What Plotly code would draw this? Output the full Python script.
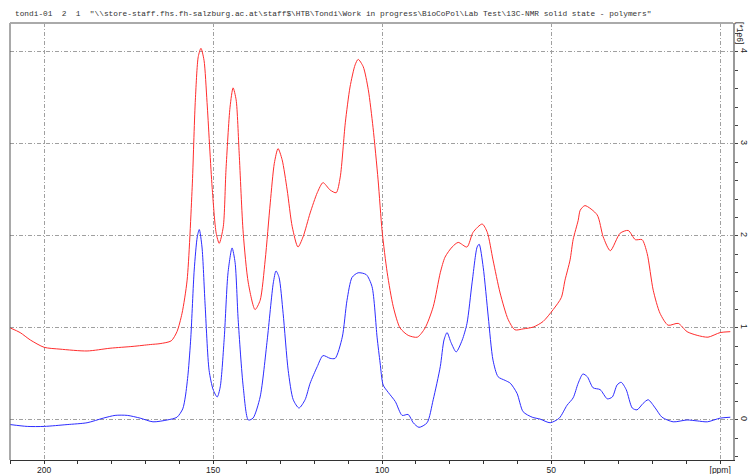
import plotly.graph_objects as go

# --- data (ppm, intensity in 1e6 units) ---
red_ppm = [210.0, 207.1, 204.1, 200.0, 195.3, 187.3, 180.5, 173.7, 168.6, 165.7, 162.4, 160.7, 159.2, 157.7,
           156.2, 155.3, 154.4, 153.6, 152.7, 151.8, 150.3, 149.1, 148.2, 147.0, 146.2, 145.0, 144.1, 143.2,
           142.3, 141.1, 139.6, 137.6, 136.1, 134.6, 133.1, 131.9, 130.8, 129.6, 128.1, 126.6, 124.9, 123.4,
           121.3, 119.2, 117.5, 115.4, 113.6, 112.4, 110.9, 109.5, 108.0, 107.1, 105.6, 104.1, 102.7, 101.2,
           100.0, 98.5, 96.7, 94.7, 92.3, 89.6, 87.3, 84.9, 82.8, 81.4, 79.3, 77.5, 74.9, 73.1, 70.4, 68.9,
           67.2, 65.1, 62.7, 60.7, 58.3, 55.3, 52.4, 49.4, 47.0, 45.9, 44.4, 43.5, 42.0, 41.4, 40.0, 36.4,
           34.6, 32.5, 29.6, 27.2, 25.1, 23.1, 21.6, 19.8, 17.8, 15.4, 12.4, 9.8, 6.8, 3.6, 0.0, -3.0]
red_int = [1.00, 0.95, 0.87, 0.79, 0.77, 0.75, 0.78, 0.80, 0.82, 0.83, 0.86, 0.96, 1.16, 1.52,
           2.53, 3.45, 3.95, 4.04, 3.91, 3.45, 2.53, 2.03, 1.92, 2.10, 2.72, 3.40, 3.61, 3.48,
           2.90, 2.03, 1.49, 1.20, 1.30, 1.74, 2.36, 2.79, 2.95, 2.83, 2.50, 2.10, 1.88, 1.99,
           2.25, 2.47, 2.58, 2.50, 2.47, 2.64, 3.23, 3.62, 3.86, 3.92, 3.84, 3.59, 3.18, 2.61,
           2.05, 1.60, 1.23, 1.00, 0.92, 0.90, 1.00, 1.23, 1.60, 1.77, 1.88, 1.93, 1.88, 2.04, 2.13, 2.04,
           1.74, 1.38, 1.09, 0.98, 0.99, 1.01, 1.07, 1.20, 1.33, 1.52, 1.74, 1.96, 2.17, 2.28, 2.33, 2.23,
           1.99, 1.84, 2.03, 2.06, 1.96, 1.96, 1.81, 1.41, 1.16, 1.03, 1.05, 0.96, 0.92, 0.90, 0.95, 0.96]

blue_ppm = [210.0, 205.0, 200.0, 193.2, 187.3, 182.5, 179.0, 175.4, 171.6, 167.8, 163.6, 160.7, 159.0, 158.2,
            157.4, 156.6, 155.6, 154.7, 154.1, 153.3, 152.4, 151.2, 150.0, 148.8, 147.9, 146.7, 145.6, 144.4,
            143.5, 142.6, 141.1, 139.6, 138.2, 136.1, 134.0, 132.2, 131.4, 130.5, 129.3, 127.8, 126.3, 124.6,
            122.8, 121.3, 119.2, 117.5, 115.4, 113.9, 111.8, 110.4, 108.9, 107.1, 104.7, 103.0, 101.5, 100.6,
            99.7, 98.2, 96.1, 94.1, 92.3, 90.8, 89.1, 86.7, 84.9, 82.8, 81.7, 80.8, 79.6, 78.1, 76.3, 74.9,
            73.4, 71.9, 71.3, 70.1, 68.6, 67.2, 65.7, 63.6, 62.1, 60.1, 58.3, 55.6, 53.3, 50.3, 47.6, 45.3,
            43.5, 42.0, 40.6, 39.3, 37.6, 35.5, 33.4, 31.9, 30.5, 29.3, 27.8, 26.0, 24.6, 22.8, 21.3, 19.2,
            17.2, 13.9, 9.8, 6.8, 3.8, 0.0, -3.0]
blue_int = [-0.05, -0.07, -0.07, -0.05, -0.03, 0.02, 0.05, 0.05, 0.02, -0.02, 0.00, 0.03, 0.12, 0.26,
            0.51, 0.90, 1.63, 1.99, 2.07, 1.88, 1.27, 0.54, 0.33, 0.25, 0.36, 0.90, 1.60, 1.87,
            1.71, 1.09, 0.36, 0.00, 0.02, 0.25, 0.87, 1.49, 1.62, 1.55, 1.16, 0.54, 0.22, 0.13,
            0.22, 0.40, 0.58, 0.70, 0.67, 0.67, 0.90, 1.30, 1.55, 1.60, 1.58, 1.45, 0.90, 0.62,
            0.38, 0.30, 0.20, 0.05, 0.06, -0.03, -0.08, -0.03, 0.22, 0.58, 0.87, 0.95, 0.84, 0.74, 0.87, 1.05,
            1.49, 1.88, 1.91, 1.66, 1.12, 0.65, 0.47, 0.43, 0.40, 0.29, 0.09, 0.03, 0.01, -0.03, 0.02, 0.16,
            0.24, 0.40, 0.50, 0.47, 0.35, 0.33, 0.23, 0.25, 0.38, 0.41, 0.33, 0.13, 0.11, 0.18, 0.22, 0.13,
            0.03, -0.02, 0.00, -0.01, -0.02, 0.02, 0.03]

x_tickvals = [200, 150, 100, 50, 0]
x_ticktext = ["200", "150", "100", "50", "[ppm]"]
y_tickvals = [0, 1, 2, 3, 4]
y_ticktext = ["0", "1", "2", "3", "4"]
y_unit = "[*1e6]"
title_text = ('tondi-01  2  1  "\\\\store-staff.fhs.fh-salzburg.ac.at\\staff$\\HTB\\Tondi\\Work in progress'
              '\\BioCoPol\\Lab Test\\13C-NMR solid state - polymers"')

fig = go.Figure()
fig.add_trace(go.Scatter(x=red_ppm, y=red_int, mode="lines",
                         line=dict(color="rgb(255,45,45)", width=1, shape="spline", smoothing=0.7),
                         hoverinfo="skip", showlegend=False))
fig.add_trace(go.Scatter(x=blue_ppm, y=blue_int, mode="lines",
                         line=dict(color="rgb(45,45,255)", width=1, shape="spline", smoothing=0.7),
                         hoverinfo="skip", showlegend=False))

grid_dash = "4px,2px,1px,2px"
fig.update_layout(
    width=751, height=474,
    margin=dict(l=10, r=18, t=23, b=14, autoexpand=False),
    paper_bgcolor="white", plot_bgcolor="white",
    font=dict(family="Liberation Sans, Arial, sans-serif", size=9, color="#222"),
    xaxis=dict(range=[210.1, -3.8], tickmode="array", tickvals=x_tickvals, ticktext=x_ticktext,
               automargin=False,
               ticks="outside", ticklen=2, tickcolor="#333", tickwidth=1,
               showline=True, linecolor="#333", linewidth=1,
               showgrid=True, gridcolor="#a0a0a0", gridwidth=1, griddash=grid_dash,
               zeroline=False,
               minor=dict(dtick=10, tick0=0, ticks="outside", ticklen=3, tickcolor="#333", showgrid=False),
               tickfont=dict(size=8.5, color="#222")),
    yaxis=dict(range=[-0.435, 4.315], side="right", tickmode="array", tickvals=y_tickvals, ticktext=y_ticktext,
               automargin=False,
               ticks="outside", ticklen=2, tickcolor="#444", tickwidth=1, tickangle=90,
               showline=True, linecolor="#999", linewidth=2,
               showgrid=True, gridcolor="#a0a0a0", gridwidth=1, griddash=grid_dash,
               zeroline=False,
               minor=dict(dtick=0.2, tick0=0, ticks="outside", ticklen=3, tickcolor="#444", showgrid=False),
               tickfont=dict(size=9, color="#222")),
    shapes=[
        dict(type="line", xref="paper", yref="paper", x0=0, x1=0, y0=0, y1=1,
             line=dict(color="#555", width=1)),
        dict(type="line", xref="paper", yref="paper", x0=0, x1=1, y0=1, y1=1,
             line=dict(color="#aaa", width=2)),
    ],
    annotations=[
        dict(text=title_text, xref="paper", yref="paper", x=0.004, y=1.021, xanchor="left", yanchor="middle",
             showarrow=False, font=dict(family="Liberation Mono, Courier New, monospace", size=7.8, color="#333")),
        dict(text=y_unit, xref="paper", yref="y", x=1.0105, y=4.21, xanchor="center", yanchor="middle",
             textangle=90, showarrow=False, font=dict(size=8.5, color="#222")),
    ],
)

fig.write_html("out.html")
